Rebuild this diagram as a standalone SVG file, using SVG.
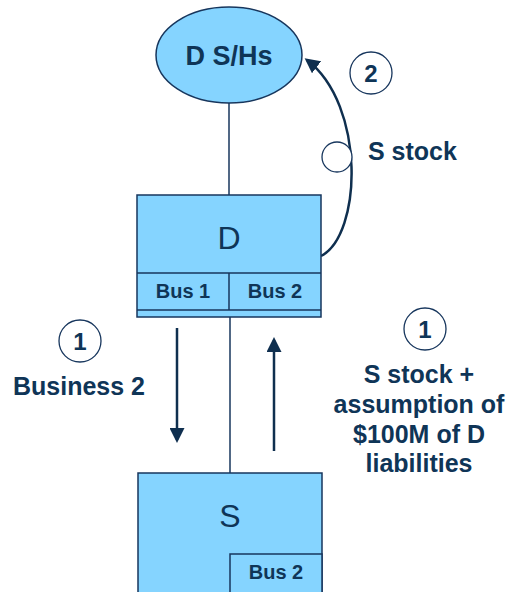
<svg xmlns="http://www.w3.org/2000/svg" width="510" height="592" viewBox="0 0 510 592">
<style>
.box{fill:#85D4FF;stroke:#17365D;stroke-width:1.5}
.ln{stroke:#17365D;stroke-width:1.5;fill:none}
.arr{stroke:#0F2F4F;stroke-width:2.5;fill:none}
.circ{fill:#fff;stroke:#17365D;stroke-width:1.3}
.t{font-family:"Liberation Sans",Arial,sans-serif;fill:#0F3557;text-anchor:middle}
.b{font-weight:bold}
</style>
<defs>
<marker id="ah" viewBox="0 0 10 10" refX="8" refY="5" markerWidth="6" markerHeight="6" orient="auto" markerUnits="strokeWidth">
<path d="M0,0 L10,5 L0,10 Z" fill="#0F2F4F"/>
</marker>
</defs>
<g id="connectors">
<line class="ln" x1="229" y1="103" x2="229" y2="195"/>
<line class="ln" x1="230" y1="317" x2="230" y2="473"/>
<path class="arr" d="M321,256 C362,235 366,105 307,60" marker-end="url(#ah)"/>
<line class="arr" x1="177" y1="328" x2="177" y2="440" marker-end="url(#ah)"/>
<line class="arr" x1="274" y1="451" x2="274" y2="340" marker-end="url(#ah)"/>
</g>
<g id="node-dsh">
<ellipse class="box" cx="229" cy="55" rx="73" ry="48"/>
<text class="t b" x="229" y="65" font-size="27">D S/Hs</text>
</g>
<g id="node-d">
<rect class="box" x="137" y="195" width="184" height="122"/>
<line class="ln" x1="137" y1="273" x2="321" y2="273"/>
<line class="ln" x1="137" y1="310" x2="321" y2="310"/>
<line class="ln" x1="229" y1="273" x2="229" y2="310"/>
<text class="t" x="229" y="249" font-size="32">D</text>
<text class="t b" x="183" y="298" font-size="20">Bus 1</text>
<text class="t b" x="275" y="298" font-size="20">Bus 2</text>
</g>
<g id="node-s">
<rect class="box" x="138" y="473" width="184" height="140"/>
<rect class="box" x="230" y="554" width="92" height="60"/>
<text class="t" x="230" y="527" font-size="32">S</text>
<text class="t b" x="276" y="579" font-size="20">Bus 2</text>
</g>
<g id="label-2">
<circle class="circ" cx="371" cy="73" r="21"/>
<text class="t b" x="371" y="82" font-size="24">2</text>
</g>
<g id="label-sstock">
<circle class="circ" cx="337" cy="157" r="15"/>
<text class="t b" x="368" y="160" font-size="25" style="text-anchor:start">S stock</text>
</g>
<g id="label-1-left">
<circle class="circ" cx="80" cy="341" r="21"/>
<text class="t b" x="80" y="350" font-size="24">1</text>
<text class="t b" x="79" y="395" font-size="25">Business 2</text>
</g>
<g id="label-1-right">
<circle class="circ" cx="425" cy="329" r="21"/>
<text class="t b" x="425" y="338" font-size="24">1</text>
<text class="t b" x="419" y="383" font-size="25">S stock +</text>
<text class="t b" x="419" y="413" font-size="25">assumption of</text>
<text class="t b" x="419" y="443" font-size="25">$100M of D</text>
<text class="t b" x="419" y="472" font-size="25">liabilities</text>
</g>
</svg>
